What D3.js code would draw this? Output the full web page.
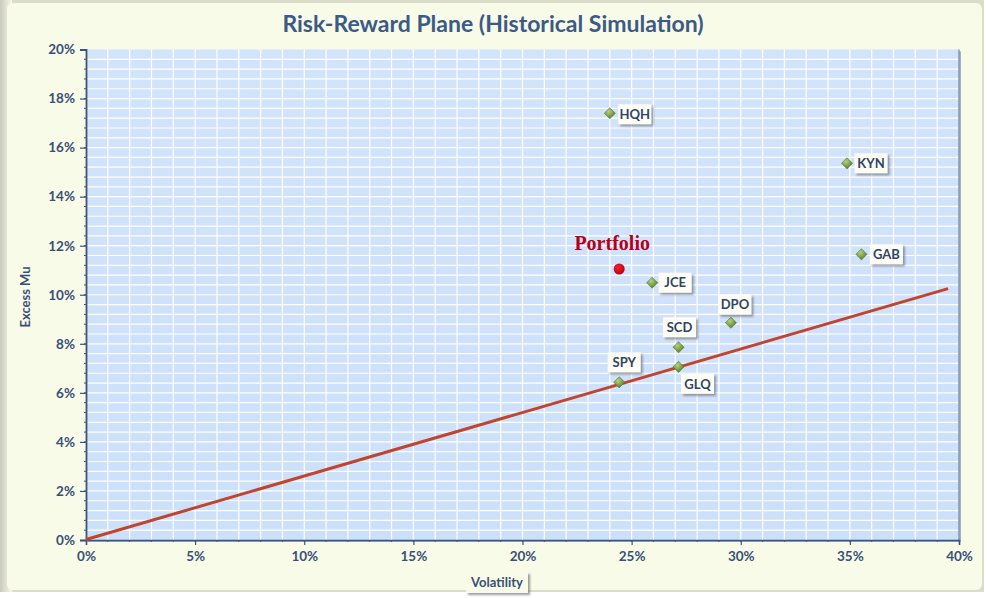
<!DOCTYPE html>
<html>
<head>
<meta charset="utf-8">
<script src="https://cdn.jsdelivr.net/npm/d3@7"></script>
<style>
html,body{margin:0;padding:0;background:#ffffff;}
svg{display:block;}
</style>
</head>
<body>
<svg id="chart" width="987" height="598"></svg>
<script>
// ---- data ----
const tickersX = [0, 0.05, 0.10, 0.15, 0.20, 0.25, 0.30, 0.35, 0.40];
const tickersY = [0, 0.02, 0.04, 0.06, 0.08, 0.10, 0.12, 0.14, 0.16, 0.18, 0.20];
const names = ["HQH", "KYN", "GAB", "JCE", "DPO", "SCD", "GLQ", "SPY"];
const volatility = [0.240, 0.3487, 0.3553, 0.2594, 0.2955, 0.2715, 0.2715, 0.2443];
const excessMu = [0.1740, 0.1536, 0.1165, 0.1049, 0.0886, 0.0786, 0.0706, 0.0643];
const portfolioName = ["Portfolio"];
const portfolioVol = [0.2443];
const portfolioMu = [0.1105];
const lineVol = [0, 0.395];
const lineMu = [0.0002, 0.1025];
const title = "Risk-Reward Plane (Historical Simulation)";
const xTitle = "Volatility";
const yTitle = "Excess Mu";

// ---- layout / style ----
const W = 987, H = 598;
const plot = {left: 86, right: 959, top: 49.5, bottom: 540};
const labelOffset = {
  HQH: [25, 1], KYN: [24, 0], GAB: [25, 0], JCE: [23, 0],
  DPO: [4, -18], SCD: [1, -20], GLQ: [19, 17], SPY: [5, -20]
};
const axisColor = "#3d5478";
const textColor = "#375077";
const font = "Lato, 'Open Sans', sans-serif";

const svg = d3.select("#chart");
const defs = svg.append("defs");

const frameGrad = defs.append("linearGradient").attr("id", "frameL").attr("x1", 0).attr("x2", 1).attr("y1", 0).attr("y2", 0);
frameGrad.append("stop").attr("offset", 0).attr("stop-color", "#c9cabc");
frameGrad.append("stop").attr("offset", 1).attr("stop-color", "#f7f9e6");

const plotGrad = defs.append("linearGradient").attr("id", "plotBg").attr("x1", 0).attr("x2", 0).attr("y1", 0).attr("y2", 1);
plotGrad.append("stop").attr("offset", 0).attr("stop-color", "#d2e4fb");
plotGrad.append("stop").attr("offset", 1).attr("stop-color", "#cde0fa");

const shadow = defs.append("filter").attr("id", "shadow").attr("x", "-30%").attr("y", "-30%").attr("width", "170%").attr("height", "180%");
shadow.append("feDropShadow").attr("dx", 2).attr("dy", 2).attr("stdDeviation", 1.2).attr("flood-color", "#6c7078").attr("flood-opacity", 0.7);

const diamondGrad = defs.append("radialGradient").attr("id", "diam").attr("cx", "40%").attr("cy", "35%").attr("r", "70%");
diamondGrad.append("stop").attr("offset", 0).attr("stop-color", "#b6d37a");
diamondGrad.append("stop").attr("offset", 1).attr("stop-color", "#4f7326");

const dotGrad = defs.append("radialGradient").attr("id", "dot").attr("cx", "40%").attr("cy", "35%").attr("r", "70%");
dotGrad.append("stop").attr("offset", 0).attr("stop-color", "#f0202a");
dotGrad.append("stop").attr("offset", 1).attr("stop-color", "#b80010");

// ---- chart frame ----
svg.append("rect").attr("x", 0).attr("y", 0).attr("width", W).attr("height", H).attr("fill", "#ffffff");
svg.append("rect").attr("x", 0).attr("y", 0).attr("width", 984).attr("height", 592)
  .attr("fill", "#dcdccb");
svg.append("rect").attr("x", 0).attr("y", 0).attr("width", 12).attr("height", 592).attr("fill", "url(#frameL)");
svg.append("rect").attr("x", 7).attr("y", 3).attr("width", 975).attr("height", 587)
  .attr("rx", 6).attr("fill", "#f8fbe7");

// ---- scales ----
const x = d3.scaleLinear().domain([0, 0.40]).range([plot.left, plot.right]);
const y = d3.scaleLinear().domain([0, 0.20]).range([plot.bottom, plot.top]);

// plot area
svg.append("rect").attr("x", plot.left + 2).attr("y", plot.top + 2)
  .attr("width", plot.right - plot.left).attr("height", plot.bottom - plot.top)
  .attr("fill", "#9fb2cc");
svg.append("rect").attr("x", plot.left).attr("y", plot.top)
  .attr("width", plot.right - plot.left).attr("height", plot.bottom - plot.top)
  .attr("fill", "url(#plotBg)");

// gridlines
const gx = d3.range(1, 40).map(i => i / 100);
const gy = d3.range(1, 50).map(i => i * 0.004);
svg.append("g").selectAll("line").data(gx).join("line")
  .attr("x1", d => x(d)).attr("x2", d => x(d))
  .attr("y1", plot.top).attr("y2", plot.bottom)
  .attr("stroke", "#ffffff").attr("stroke-width", 1.2);
svg.append("g").selectAll("line").data(gy).join("line")
  .attr("x1", plot.left).attr("x2", plot.right)
  .attr("y1", d => y(d)).attr("y2", d => y(d))
  .attr("stroke", "#ffffff").attr("stroke-width", 1.2);

svg.append("line").attr("x1", plot.right).attr("x2", plot.right).attr("y1", plot.top).attr("y2", plot.bottom)
  .attr("stroke", "#8797b0").attr("stroke-width", 1.5);

// ---- axes ----
const xAxis = d3.axisBottom(x).tickValues(tickersX).tickFormat(d3.format(".0%")).tickSize(5).tickPadding(6);
const gX = svg.append("g").attr("transform", `translate(0,${plot.bottom})`).call(xAxis);
gX.select(".domain").attr("stroke", axisColor).attr("stroke-width", 1.5);
gX.selectAll(".tick line").attr("stroke", axisColor).attr("stroke-width", 1.2);
gX.selectAll(".tick text").attr("fill", textColor).attr("font-family", font)
  .attr("font-weight", "bold").attr("font-size", 13.5);
svg.append("g").selectAll("line").data(gx).join("line")
  .attr("x1", d => x(d)).attr("x2", d => x(d)).attr("y1", plot.bottom).attr("y2", plot.bottom + 2)
  .attr("stroke", axisColor).attr("stroke-width", 1);

const yAxis = d3.axisLeft(y).tickValues(tickersY).tickFormat(d3.format(".0%")).tickSize(6).tickPadding(5);
const gY = svg.append("g").attr("transform", `translate(${plot.left},0)`).call(yAxis);
gY.select(".domain").attr("stroke", axisColor).attr("stroke-width", 1.8);
gY.selectAll(".tick line").attr("stroke", axisColor).attr("stroke-width", 1.2);
gY.selectAll(".tick text").attr("fill", textColor).attr("font-family", font)
  .attr("font-weight", "bold").attr("font-size", 13.5);
svg.append("g").selectAll("line").data(gy).join("line")
  .attr("x1", plot.left - 2).attr("x2", plot.left).attr("y1", d => y(d)).attr("y2", d => y(d))
  .attr("stroke", axisColor).attr("stroke-width", 1);

// ---- line ----
const lineData = lineVol.map((v, i) => [v, lineMu[i]]);
svg.append("path").datum(lineData)
  .attr("d", d3.line().x(d => x(d[0])).y(d => y(d[1])))
  .attr("fill", "none").attr("stroke", "#c0452f").attr("stroke-width", 3);

// ---- points ----
const pts = names.map((n, i) => ({name: n, vol: volatility[i], mu: excessMu[i]}));
const sym = d3.symbol().type(d3.symbolDiamond2).size(80);
svg.append("g").selectAll("path").data(pts).join("path")
  .attr("transform", d => `translate(${x(d.vol)},${y(d.mu)})`)
  .attr("d", sym).attr("fill", "url(#diam)").attr("stroke", "#4f6f28").attr("stroke-width", 0.5);

// labels
const lg = svg.append("g").selectAll("g").data(pts).join("g")
  .attr("transform", d => `translate(${x(d.vol) + labelOffset[d.name][0]},${y(d.mu) + labelOffset[d.name][1]})`);
lg.append("rect").attr("x", -16.5).attr("y", -10).attr("width", 33).attr("height", 20)
  .attr("fill", "#fdfdf6").attr("filter", "url(#shadow)");
lg.append("text").attr("text-anchor", "middle").attr("dy", "0.36em")
  .attr("font-family", font).attr("font-weight", "bold").attr("font-size", 13)
  .attr("fill", "#2f4466").text(d => d.name);

// portfolio
const port = portfolioName.map((n, i) => ({name: n, vol: portfolioVol[i], mu: portfolioMu[i]}));
svg.append("g").selectAll("circle").data(port).join("circle")
  .attr("cx", d => x(d.vol)).attr("cy", d => y(d.mu)).attr("r", 5.5)
  .attr("fill", "url(#dot)");
svg.append("g").selectAll("text").data(port).join("text")
  .attr("x", d => x(d.vol) - 7).attr("y", d => y(d.mu) - 19)
  .attr("text-anchor", "middle")
  .attr("font-family", "'Liberation Serif', 'DejaVu Serif', serif").attr("font-weight", "bold")
  .attr("font-size", 20).attr("fill", "#b4001a").text(d => d.name);

// ---- titles ----
svg.append("text").attr("x", 493).attr("y", 32).attr("text-anchor", "middle")
  .attr("font-family", font).attr("font-weight", "bold").attr("font-size", 23)
  .attr("fill", "#3b5a85").text(title);

const xt = svg.append("g").attr("transform", "translate(497,583)");
xt.append("rect").attr("x", -31).attr("y", -11).attr("width", 62).attr("height", 21)
  .attr("fill", "#f8fbe7").attr("filter", "url(#shadow)");
xt.append("text").attr("text-anchor", "middle").attr("dy", "0.33em")
  .attr("font-family", font).attr("font-weight", "bold").attr("font-size", 13)
  .attr("fill", textColor).text(xTitle);

svg.append("text").attr("transform", "translate(30,297) rotate(-90)").attr("text-anchor", "middle")
  .attr("font-family", font).attr("font-weight", "bold").attr("font-size", 13)
  .attr("fill", textColor).text(yTitle);
</script>
</body>
</html>
